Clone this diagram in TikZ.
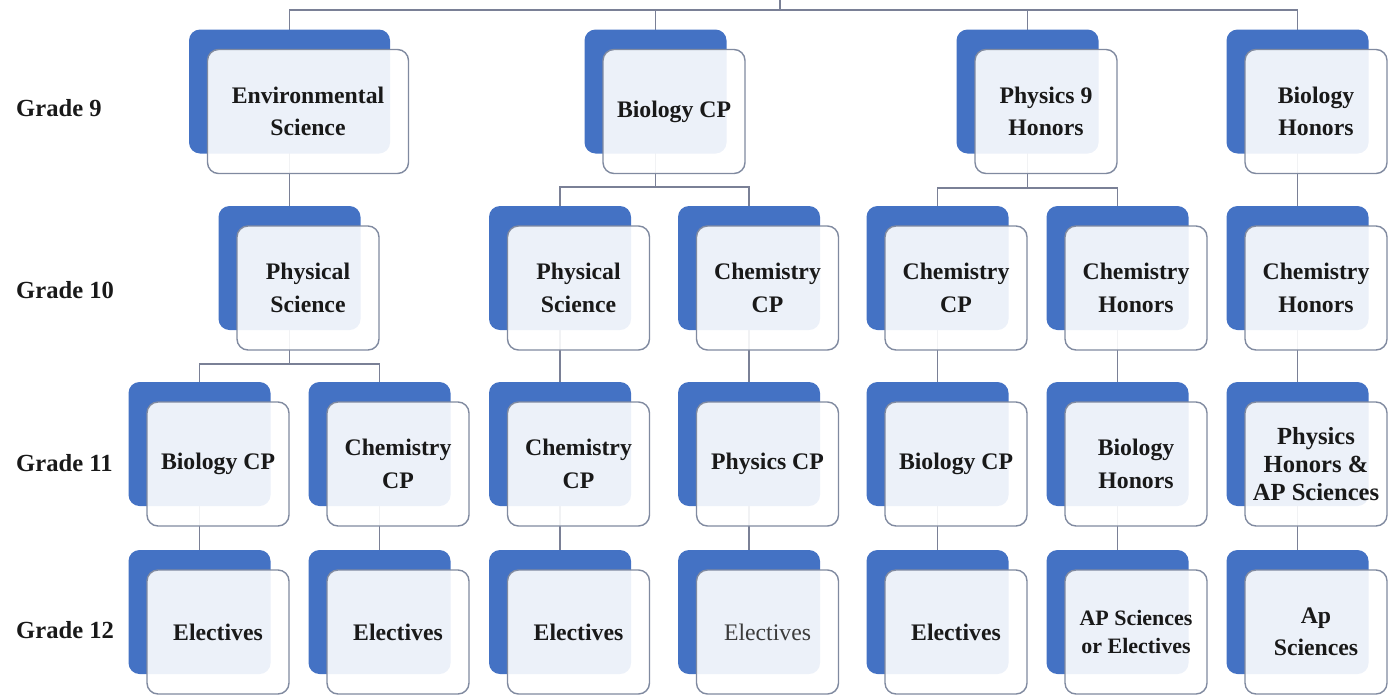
\documentclass[tikz,border=0pt]{standalone}
\usepackage{fontspec}
\setmainfont{Liberation Serif}
\usepackage{xcolor}
\usepackage{tikz}
\usetikzlibrary{
  positioning,
  backgrounds,
  shadows
}
\definecolor{BoxBlue}{RGB}{68, 114, 196}
\definecolor{BoxEdge}{RGB}{128, 138, 160}
\definecolor{LinkGray}{RGB}{122, 128, 150}
\definecolor{TextDark}{RGB}{25, 25, 25}
\tikzset{
    course/.style={
        rectangle, rounded corners=0.22cm, draw=BoxEdge, line width=0.8pt,
        fill=white, fill opacity=0.9, text opacity=1,
        minimum width=2.84cm, minimum height=2.48cm, inner sep=2pt,
        align=center, text=TextDark,
        font=\fontsize{13.5}{18.5}\selectfont\bfseries,
        copy shadow={fill=BoxBlue, draw=none, fill opacity=1,
            shadow xshift=-0.37cm, shadow yshift=0.4cm}
    },
    wide course/.style={course, minimum width=4.02cm},
    small text/.style={font=\fontsize{14}{16}\selectfont\bfseries},
    smaller text/.style={font=\fontsize{12.5}{15.5}\selectfont\bfseries},
    plain text/.style={font=\fontsize{13.5}{18.5}\selectfont\mdseries, text=TextDark!85},
    grade/.style={anchor=west, text=TextDark, font=\fontsize{14}{16}\selectfont\bfseries},
    link/.style={draw=LinkGray, line width=0.9pt}
}

\begin{document}
\begin{tikzpicture}
    \useasboundingbox (0,0) rectangle (27.84,-13.88);

    % grade labels
    \node[grade] (g9) at (0.2,-2.16) {Grade 9};
    \node[grade] (g10) at (0.2,-5.80) {Grade 10};
    \node[grade] (g11) at (0.2,-9.26) {Grade 11};
    \node[grade] (g12) at (0.2,-12.60) {Grade 12};

    % grade 9
    \coordinate (root) at (15.6,0);
    \node[wide course] (env) at (6.16,-2.23) {Environmental\\Science};
    \node[course] (bio9) at (13.48,-2.23) {Biology CP};
    \node[course] (phy9) at (20.92,-2.23) {Physics 9\\Honors};
    \node[course] (bioh9) at (26.32,-2.23) {Biology\\Honors};

    % grade 10
    \node[course] (physa10) at (6.16,-5.76) {Physical\\Science};
    \node[course] (physb10) at (11.57,-5.76) {Physical\\Science};
    \node[course] (chema10) at (15.35,-5.76) {Chemistry\\CP};
    \node[course] (chemb10) at (19.12,-5.76) {Chemistry\\CP};
    \node[course] (chemha10) at (22.72,-5.76) {Chemistry\\Honors};
    \node[course] (chemhb10) at (26.32,-5.76) {Chemistry\\Honors};

    % grade 11
    \node[course] (bioa11) at (4.36,-9.28) {Biology CP};
    \node[course] (chema11) at (7.96,-9.28) {Chemistry\\CP};
    \node[course] (chemb11) at (11.57,-9.28) {Chemistry\\CP};
    \node[course] (phys11) at (15.35,-9.28) {Physics CP};
    \node[course] (biob11) at (19.12,-9.28) {Biology CP};
    \node[course] (bioh11) at (22.72,-9.28) {Biology\\Honors};
    \node[course, small text] (phyh11) at (26.32,-9.28) {Physics\\Honors \&\\AP Sciences};

    % grade 12
    \node[course] (elca12) at (4.36,-12.64) {Electives};
    \node[course] (elcb12) at (7.96,-12.64) {Electives};
    \node[course] (elcc12) at (11.57,-12.64) {Electives};
    \node[course, plain text] (elcd12) at (15.35,-12.64) {Electives};
    \node[course] (elce12) at (19.12,-12.64) {Electives};
    \node[course, smaller text] (apel12) at (22.72,-12.64) {AP Sciences\\or Electives};
    \node[course] (aps12) at (26.32,-12.64) {Ap\\Sciences};

    \begin{scope}[on background layer]
        % top level
        \draw[link] (root) -- ++(0,-0.2) -| ([xshift=-0.37cm]env.north);
        \draw[link] (root) -- ++(0,-0.2) -| ([xshift=-0.37cm]bio9.north);
        \draw[link] (root) -- ++(0,-0.2) -| ([xshift=-0.37cm]phy9.north);
        \draw[link] (root) -- ++(0,-0.2) -| ([xshift=-0.37cm]bioh9.north);
        % grade 9 to 10
        \draw[link] ([xshift=-0.37cm]env.center) -- ([xshift=-0.37cm]physa10.north);
        \draw[link] ([xshift=-0.37cm]bio9.center) -- ([xshift=-0.37cm,yshift=-0.26cm]bio9.south) -| ([xshift=-0.37cm]physb10.north);
        \draw[link] ([xshift=-0.37cm]bio9.center) -- ([xshift=-0.37cm,yshift=-0.26cm]bio9.south) -| ([xshift=-0.37cm]chema10.north);
        \draw[link] ([xshift=-0.37cm]phy9.center) -- ([xshift=-0.37cm,yshift=-0.28cm]phy9.south) -| ([xshift=-0.37cm]chemb10.north);
        \draw[link] ([xshift=-0.37cm]phy9.center) -- ([xshift=-0.37cm,yshift=-0.28cm]phy9.south) -| ([xshift=-0.37cm]chemha10.north);
        \draw[link] ([xshift=-0.37cm]bioh9.center) -- ([xshift=-0.37cm]chemhb10.north);
        % grade 10 to 11
        \draw[link] ([xshift=-0.37cm]physa10.center) -- ([xshift=-0.37cm,yshift=-0.26cm]physa10.south) -| ([xshift=-0.37cm]bioa11.north);
        \draw[link] ([xshift=-0.37cm]physa10.center) -- ([xshift=-0.37cm,yshift=-0.26cm]physa10.south) -| ([xshift=-0.37cm]chema11.north);
        \draw[link] ([xshift=-0.37cm]physb10.center) -- ([xshift=-0.37cm]chemb11.north);
        \draw[link] ([xshift=-0.37cm]chema10.center) -- ([xshift=-0.37cm]phys11.north);
        \draw[link] ([xshift=-0.37cm]chemb10.center) -- ([xshift=-0.37cm]biob11.north);
        \draw[link] ([xshift=-0.37cm]chemha10.center) -- ([xshift=-0.37cm]bioh11.north);
        \draw[link] ([xshift=-0.37cm]chemhb10.center) -- ([xshift=-0.37cm]phyh11.north);
        % grade 11 to 12
        \draw[link] ([xshift=-0.37cm]bioa11.center) -- ([xshift=-0.37cm]elca12.north);
        \draw[link] ([xshift=-0.37cm]chema11.center) -- ([xshift=-0.37cm]elcb12.north);
        \draw[link] ([xshift=-0.37cm]chemb11.center) -- ([xshift=-0.37cm]elcc12.north);
        \draw[link] ([xshift=-0.37cm]phys11.center) -- ([xshift=-0.37cm]elcd12.north);
        \draw[link] ([xshift=-0.37cm]biob11.center) -- ([xshift=-0.37cm]elce12.north);
        \draw[link] ([xshift=-0.37cm]bioh11.center) -- ([xshift=-0.37cm]apel12.north);
        \draw[link] ([xshift=-0.37cm]phyh11.center) -- ([xshift=-0.37cm]aps12.north);
    \end{scope}
\end{tikzpicture}
\end{document}
